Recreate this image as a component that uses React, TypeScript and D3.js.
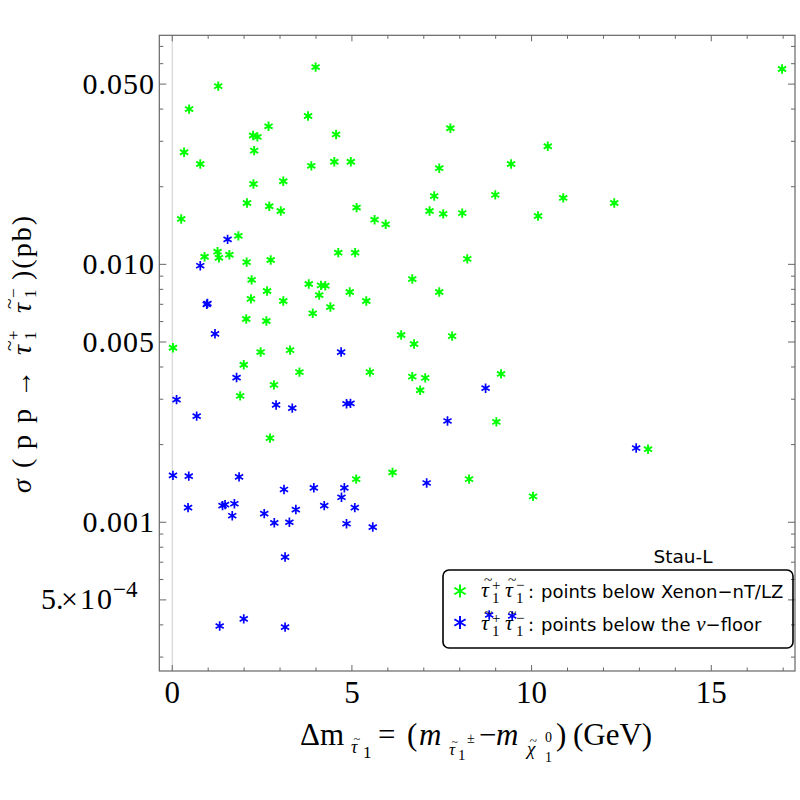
import React from "react";
import * as d3 from "d3";

// green: points below Xenon-nT/LZ
const greenX = [
  3.99, 1.28, 0.47, 3.78, 2.68, 4.56, 2.25, 2.37, 0.33, 2.28, 0.78, 3.87, 4.51, 4.97,
  2.26, 3.09, 2.08, 2.7, 3.02, 5.13, 0.25, 1.84, 1.26, 1.3, 0.9, 1.59, 2.07, 2.74,
  4.62, 5.09, 2.21, 2.64, 3.8, 4.14, 4.26, 4.09, 4.94, 2.19, 3.09, 5.4, 4.4, 3.91,
  2.06, 2.62, 0.02, 2.46, 3.28, 1.99, 3.54, 5.5, 6.37, 5.63, 5.94, 16.97, 7.74, 10.45,
  9.43, 7.43, 7.29, 8.99, 10.88, 12.3, 7.16, 7.54, 8.07, 10.18, 8.21, 6.68, 7.43, 6.73,
  7.79, 6.68, 7.04, 9.15, 2.83, 1.89, 2.72, 5.12, 6.13, 6.9, 9.02, 13.24, 8.26, 10.04,
];
const greenY = [
  0.0582, 0.0491, 0.04, 0.0376, 0.0343, 0.0319, 0.0316, 0.0312, 0.0272, 0.0276, 0.0245,
  0.0241, 0.025, 0.025, 0.0205, 0.021, 0.0173, 0.0168, 0.0161, 0.0166, 0.015, 0.0129,
  0.0112, 0.0106, 0.0107, 0.0109, 0.0102, 0.0104, 0.0111, 0.0111, 0.00871, 0.00788,
  0.00839, 0.00829, 0.00826, 0.0076, 0.00781, 0.00735, 0.00721, 0.00721, 0.00683,
  0.00646, 0.00614, 0.00603, 0.00475, 0.00457, 0.00465, 0.00408, 0.00382, 0.00382,
  0.00532, 0.0149, 0.0143, 0.0572, 0.0337, 0.0287, 0.0245, 0.0236, 0.0184, 0.0186,
  0.0181, 0.0173, 0.0161, 0.0157, 0.0158, 0.0154, 0.0105, 0.00877, 0.00781, 0.00491,
  0.00527, 0.00367, 0.00363, 0.00376, 0.00341, 0.00309, 0.00212, 0.00147, 0.00156,
  0.00325, 0.00245, 0.00192, 0.00147, 0.00126,
];

// blue: points below the neutrino floor
const blueX = [
  1.54, 0.78, 0.96, 0.98, 1.19, 4.7, 1.79, 0.12, 0.68, 2.89, 3.34, 4.85, 4.96, 0.02,
  0.46, 1.86, 3.11, 3.94, 4.79, 4.71, 0.44, 1.4, 1.47, 1.73, 1.67, 2.56, 2.84, 3.26,
  3.44, 4.23, 5.08, 4.85, 5.58, 3.14, 1.32, 1.99, 3.14, 8.72, 7.66, 12.91, 7.08, 8.82,
  9.46,
];
const blueY = [
  0.0125, 0.00988, 0.007, 0.00705, 0.00538, 0.00457, 0.00364, 0.00299, 0.00258, 0.00285,
  0.00277, 0.00288, 0.00289, 0.00152, 0.00151, 0.0015, 0.00134, 0.00136, 0.00136,
  0.00125, 0.00114, 0.00116, 0.00117, 0.00118, 0.00106, 0.00108, 0.000995, 0.001,
  0.00112, 0.00116, 0.00114, 0.000987, 0.000958, 0.000733, 0.000396, 0.000422,
  0.000392, 0.00331, 0.00247, 0.00194, 0.00142, 0.000437, 0.000433,
];

const xMajor = [0, 5, 10, 15];
const xMinor = [1, 2, 3, 4, 6, 7, 8, 9, 11, 12, 13, 14, 16, 17];
const yMajor = [0.001, 0.005, 0.01, 0.05];
const yMajorLabels = ["0.001", "0.005", "0.010", "0.050"];
const yMinor = [
  0.0003, 0.0004, 0.0006, 0.0007, 0.0008, 0.0009, 0.002, 0.003, 0.004, 0.006, 0.007,
  0.008, 0.009, 0.02, 0.03, 0.04, 0.06, 0.07,
];

const W = 800;
const H = 800;
const left = 159.3;
const right = 795;
const top = 35.3;
const bottom = 671;

const x = d3.scaleLinear().domain([-0.36, 17.33]).range([left, right]);
const y = d3.scaleLog().domain([2.65e-4, 0.0773]).range([bottom, top]);

const GREEN = "#00ff00";
const BLUE = "#0000ff";
const FRAME = "#666666";
const SERIF = "'Liberation Serif', 'Times New Roman', serif";
const SANS = "'DejaVu Sans', 'Liberation Sans', sans-serif";

const starPath = (cx: number, cy: number, r: number) => {
  const a = (Math.PI / 180) * 30;
  const dx = r * Math.cos(a);
  const dy = r * Math.sin(a);
  return (
    `M${cx},${cy - r}L${cx},${cy + r}` +
    `M${cx - dx},${cy - dy}L${cx + dx},${cy + dy}` +
    `M${cx - dx},${cy + dy}L${cx + dx},${cy - dy}`
  );
};

const Star = ({ cx, cy, r, color, w }: { cx: number; cy: number; r: number; color: string; w: number }) => (
  <path d={starPath(cx, cy, r)} stroke={color} strokeWidth={w} strokeLinecap="butt" fill="none" />
);

// τ̃ with a tilde drawn above it, in whatever frame the caller sets
const Tau = ({ x0, y0, fs, glyph = "τ" }: { x0: number; y0: number; fs: number; glyph?: string }) => (
  <g>
    <text x={x0} y={y0} fontSize={fs} fontStyle="italic">{glyph}</text>
    <text x={x0 + fs * 0.14} y={y0 - fs * 0.55} fontSize={fs * 0.7}>~</text>
  </g>
);

// τ̃1+ τ̃1− pair with stacked indices (legend)
const StauPair = ({ x0, y0 }: { x0: number; y0: number }) => (
  <g fontFamily={SERIF} fill="#000">
    <Tau x0={x0} y0={y0} fs={22} />
    <text x={x0 + 11} y={y0 + 6} fontSize={15}>1</text>
    <text x={x0 + 11} y={y0 - 7} fontSize={15}>+</text>
    <Tau x0={x0 + 24} y0={y0} fs={22} />
    <text x={x0 + 35} y={y0 + 6} fontSize={15}>1</text>
    <text x={x0 + 35} y={y0 - 7} fontSize={15}>−</text>
  </g>
);

const App: React.FC = () => {
  return (
    <svg
      width={W}
      height={H}
      viewBox={`0 0 ${W} ${H}`}
      style={{ position: "absolute", left: 0, top: 0, background: "#fff" }}
    >
      <rect x={0} y={0} width={W} height={H} fill="#fff" />

      {/* zero line */}
      <line x1={x(0)} x2={x(0)} y1={top} y2={bottom} stroke="#cccccc" strokeWidth={1} />

      {/* frame */}
      <rect
        x={left}
        y={top}
        width={right - left}
        height={bottom - top}
        fill="none"
        stroke={FRAME}
        strokeWidth={1.2}
      />

      {/* x ticks */}
      {xMajor.concat(xMinor).map((v) => {
        const len = xMajor.includes(v) ? 6 : 3.5;
        return (
          <g key={`xt${v}`} stroke={FRAME} strokeWidth={1}>
            <line x1={x(v)} x2={x(v)} y1={bottom} y2={bottom - len} />
            <line x1={x(v)} x2={x(v)} y1={top} y2={top + len} />
          </g>
        );
      })}
      {xMajor.map((v) => (
        <text key={`xl${v}`} x={x(v)} y={703} textAnchor="middle" fontFamily={SERIF} fontSize={31}>
          {v}
        </text>
      ))}

      {/* y ticks */}
      {yMajor.concat([0.0005], yMinor).map((v) => {
        const len = yMajor.includes(v) || v === 0.0005 ? 7 : 4;
        return (
          <g key={`yt${v}`} stroke={FRAME} strokeWidth={1}>
            <line x1={left} x2={left + len} y1={y(v)} y2={y(v)} />
            <line x1={right} x2={right - len} y1={y(v)} y2={y(v)} />
          </g>
        );
      })}
      {yMajor.map((v, i) => (
        <text
          key={`yl${v}`}
          x={155}
          y={y(v) + 10}
          textAnchor="end"
          fontFamily={SERIF}
          fontSize={30}
          letterSpacing={1}
        >
          {yMajorLabels[i]}
        </text>
      ))}
      <g fontFamily={SERIF} fontSize={30}>
        <text x={41} y={y(0.0005) + 9}>5.</text>
        <text x={61} y={y(0.0005) + 9}>×</text>
        <text x={80} y={y(0.0005) + 9} letterSpacing={2}>10</text>
        <text x={113} y={y(0.0005) - 3} fontSize={23}>−4</text>
      </g>

      {/* points */}
      {greenX.map((v, i) => (
        <Star key={`g${i}`} cx={x(v)} cy={y(greenY[i])} r={4.7} color={GREEN} w={1.9} />
      ))}
      {blueX.map((v, i) => (
        <Star key={`b${i}`} cx={x(v)} cy={y(blueY[i])} r={4.7} color={BLUE} w={1.7} />
      ))}

      {/* legend */}
      <text x={683} y={563} textAnchor="middle" fontFamily={SANS} fontSize={18.5}>
        Stau-L
      </text>
      <rect x={443} y={570} width={350} height={78} rx={6} fill="none" stroke="#000" strokeWidth={1.6} />
      <Star cx={460} cy={591} r={6.5} color={GREEN} w={2} />
      <Star cx={460} cy={622.5} r={6.5} color={BLUE} w={2} />
      <StauPair x0={481} y0={597} />
      <StauPair x0={481} y0={630} />
      <text x={528} y={598} fontFamily={SANS} fontSize={18}>:</text>
      <text x={541} y={598} fontFamily={SANS} fontSize={18}>
        points below Xenon−nT/LZ
      </text>
      <text x={528} y={631} fontFamily={SANS} fontSize={18}>:</text>
      <text x={541} y={631} fontFamily={SANS} fontSize={18}>
        points below the <tspan fontFamily={SERIF} fontStyle="italic" fontSize={21}>ν</tspan>−floor
      </text>

      {/* y axis title, pieces placed along the rotated baseline */}
      <g transform="translate(31,493) rotate(-90)" fontFamily={SERIF} fontSize={28}>
        <text x={0} y={0} fontStyle="italic">σ</text>
        <text x={25} y={0}>(</text>
        <text x={44} y={0}>p</text>
        <text x={70} y={0}>p</text>
        <text x={95} y={0}>→</text>
        <Tau x0={138} y0={0} fs={28} />
        <text x={153} y={5} fontSize={17}>1</text>
        <text x={153} y={-12} fontSize={17}>+</text>
        <Tau x0={180} y0={0} fs={28} />
        <text x={195} y={5} fontSize={17}>1</text>
        <text x={195} y={-12} fontSize={17}>−</text>
        <text x={213} y={0} letterSpacing={2}>)(pb)</text>
      </g>

      {/* x axis title */}
      <g fontFamily={SERIF} fontSize={31}>
        <text x={300} y={745}>Δm</text>
        <Tau x0={351} y0={753} fs={18} />
        <text x={363} y={758} fontSize={17}>1</text>
        <text x={378} y={745}>=</text>
        <text x={407} y={745}>(</text>
        <text x={419} y={745} fontStyle="italic">m</text>
        <Tau x0={449} y0={755} fs={17} />
        <text x={458} y={760} fontSize={15}>1</text>
        <text x={467} y={743} fontSize={14}>±</text>
        <text x={479} y={745}>−</text>
        <text x={496} y={745} fontStyle="italic">m</text>
        <Tau x0={527} y0={755} fs={19} glyph="χ" />
        <text x={545} y={742} fontSize={14}>0</text>
        <text x={545} y={762} fontSize={14}>1</text>
        <text x={556} y={745}>)</text>
        <text x={573} y={745}>(GeV)</text>
      </g>
    </svg>
  );
};

export default App;
